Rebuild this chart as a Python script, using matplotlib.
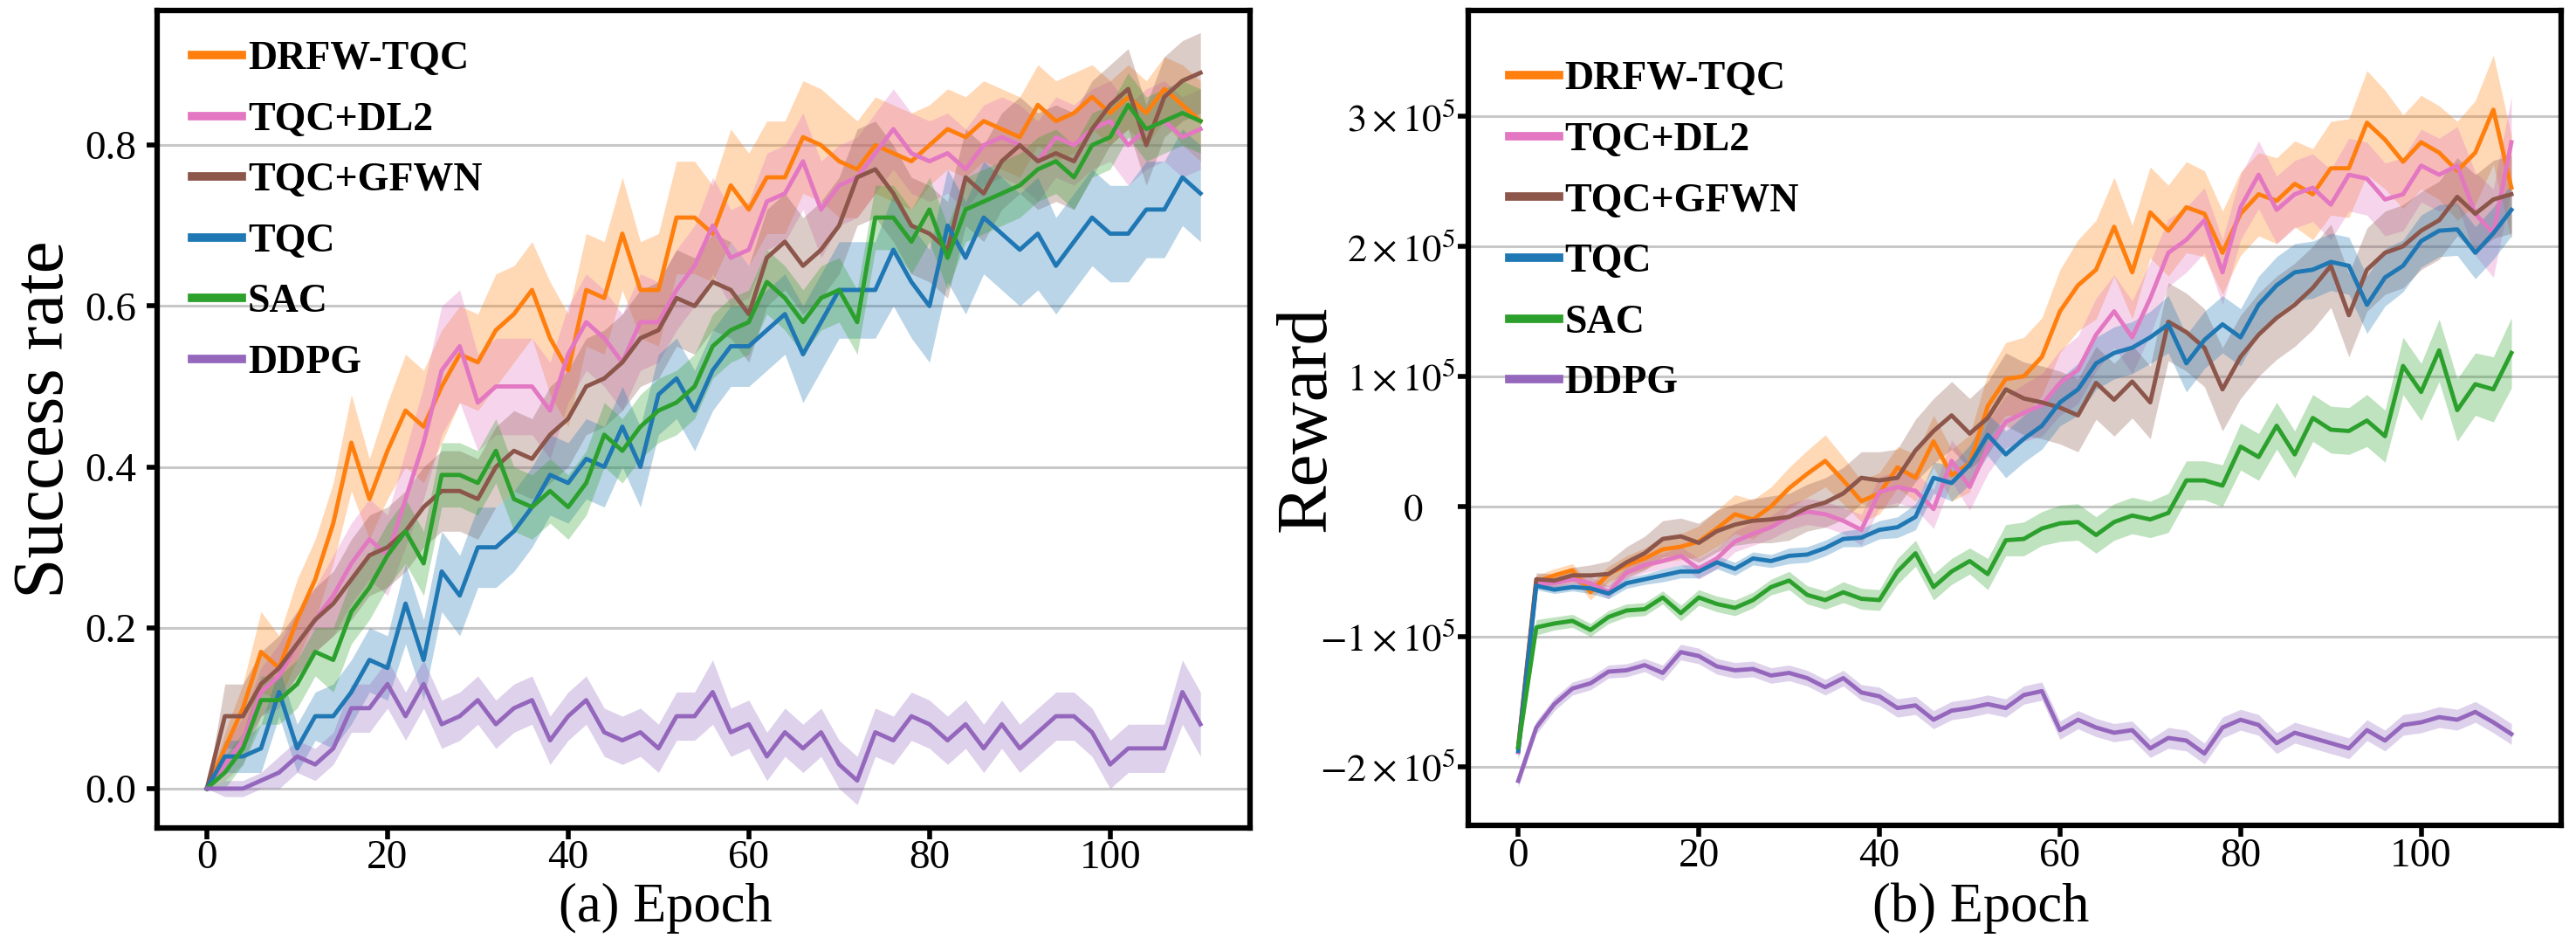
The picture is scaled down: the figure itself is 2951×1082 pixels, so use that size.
import numpy as np
import matplotlib.pyplot as plt
from matplotlib.transforms import ScaledTranslation

plt.rcParams['font.family'] = ['Liberation Serif', 'DejaVu Serif']
plt.rcParams['mathtext.fontset'] = 'stix'

# epochs sampled every 2 (0..110)
epochs = np.arange(0, 111, 2)

methods = ['DRFW-TQC', 'TQC+DL2', 'TQC+GFWN', 'TQC', 'SAC', 'DDPG']
colors = ['#ff7f0e', '#e377c2', '#8c564b', '#1f77b4', '#2ca02c', '#9467bd']

# ---- (a) success rate, mean ----
succ_drfw = [0.00, 0.05, 0.10, 0.17, 0.15, 0.21, 0.26, 0.33,
             0.43, 0.36, 0.42, 0.47, 0.45, 0.50, 0.54, 0.53,
             0.57, 0.59, 0.62, 0.56, 0.52, 0.62, 0.61, 0.69,
             0.62, 0.62, 0.71, 0.71, 0.69, 0.75, 0.72, 0.76,
             0.76, 0.81, 0.80, 0.78, 0.77, 0.80, 0.79, 0.78,
             0.80, 0.82, 0.81, 0.83, 0.82, 0.81, 0.85, 0.83,
             0.84, 0.86, 0.84, 0.86, 0.84, 0.87, 0.85, 0.83]
succ_dl2 = [0.00, 0.03, 0.06, 0.12, 0.14, 0.18, 0.21, 0.24,
            0.28, 0.31, 0.29, 0.36, 0.43, 0.52, 0.55, 0.48,
            0.50, 0.50, 0.50, 0.47, 0.54, 0.58, 0.56, 0.53,
            0.58, 0.58, 0.62, 0.65, 0.70, 0.66, 0.67, 0.73,
            0.74, 0.78, 0.72, 0.75, 0.76, 0.79, 0.82, 0.79,
            0.78, 0.79, 0.77, 0.80, 0.81, 0.80, 0.78, 0.81,
            0.80, 0.82, 0.83, 0.80, 0.82, 0.83, 0.81, 0.82]
succ_gfwn = [0.00, 0.09, 0.09, 0.13, 0.15, 0.18, 0.21, 0.23,
             0.26, 0.29, 0.30, 0.32, 0.35, 0.37, 0.37, 0.36,
             0.40, 0.42, 0.41, 0.44, 0.46, 0.50, 0.51, 0.53,
             0.56, 0.57, 0.61, 0.60, 0.63, 0.62, 0.59, 0.66,
             0.68, 0.65, 0.67, 0.70, 0.76, 0.77, 0.74, 0.70,
             0.69, 0.67, 0.76, 0.74, 0.78, 0.80, 0.78, 0.79,
             0.78, 0.82, 0.85, 0.87, 0.80, 0.86, 0.88, 0.89]
succ_tqc = [0.00, 0.04, 0.04, 0.05, 0.12, 0.05, 0.09, 0.09,
            0.12, 0.16, 0.15, 0.23, 0.16, 0.27, 0.24, 0.30,
            0.30, 0.32, 0.35, 0.39, 0.38, 0.41, 0.40, 0.45,
            0.40, 0.49, 0.51, 0.47, 0.52, 0.55, 0.55, 0.57,
            0.59, 0.54, 0.58, 0.62, 0.62, 0.62, 0.67, 0.63,
            0.60, 0.70, 0.66, 0.71, 0.69, 0.67, 0.69, 0.65,
            0.68, 0.71, 0.69, 0.69, 0.72, 0.72, 0.76, 0.74]
succ_sac = [0.00, 0.02, 0.05, 0.11, 0.11, 0.13, 0.17, 0.16,
            0.22, 0.25, 0.29, 0.32, 0.28, 0.39, 0.39, 0.38,
            0.42, 0.36, 0.35, 0.37, 0.35, 0.38, 0.44, 0.42,
            0.45, 0.47, 0.48, 0.50, 0.55, 0.57, 0.58, 0.63,
            0.61, 0.58, 0.61, 0.62, 0.58, 0.71, 0.71, 0.68,
            0.72, 0.66, 0.72, 0.73, 0.74, 0.75, 0.77, 0.78,
            0.76, 0.80, 0.81, 0.85, 0.82, 0.83, 0.84, 0.83]
succ_ddpg = [0.00, 0.00, 0.00, 0.01, 0.02, 0.04, 0.03, 0.05,
             0.10, 0.10, 0.13, 0.09, 0.13, 0.08, 0.09, 0.11,
             0.08, 0.10, 0.11, 0.06, 0.09, 0.11, 0.07, 0.06,
             0.07, 0.05, 0.09, 0.09, 0.12, 0.07, 0.08, 0.04,
             0.07, 0.05, 0.07, 0.03, 0.01, 0.07, 0.06, 0.09,
             0.08, 0.06, 0.08, 0.05, 0.08, 0.05, 0.07, 0.09,
             0.09, 0.07, 0.03, 0.05, 0.05, 0.05, 0.12, 0.08]

# ---- (a) success rate, spread ----
succ_sd_drfw = [0.00, 0.02, 0.03, 0.05, 0.04, 0.05, 0.05, 0.05,
                0.06, 0.05, 0.06, 0.07, 0.07, 0.07, 0.06, 0.06,
                0.07, 0.06, 0.06, 0.07, 0.07, 0.07, 0.07, 0.07,
                0.06, 0.07, 0.07, 0.07, 0.06, 0.07, 0.07, 0.07,
                0.07, 0.07, 0.07, 0.07, 0.06, 0.06, 0.06, 0.06,
                0.05, 0.05, 0.05, 0.05, 0.05, 0.05, 0.05, 0.05,
                0.05, 0.04, 0.04, 0.04, 0.04, 0.04, 0.05, 0.05]
succ_sd_dl2 = [0.00, 0.02, 0.03, 0.03, 0.04, 0.04, 0.04, 0.05,
               0.05, 0.05, 0.05, 0.06, 0.07, 0.08, 0.07, 0.06,
               0.06, 0.06, 0.06, 0.06, 0.06, 0.06, 0.06, 0.06,
               0.06, 0.05, 0.05, 0.05, 0.06, 0.06, 0.06, 0.06,
               0.06, 0.06, 0.06, 0.05, 0.05, 0.05, 0.05, 0.05,
               0.05, 0.05, 0.05, 0.05, 0.05, 0.05, 0.05, 0.05,
               0.05, 0.05, 0.05, 0.05, 0.05, 0.05, 0.05, 0.05]
succ_sd_gfwn = [0.00, 0.04, 0.04, 0.04, 0.04, 0.04, 0.04, 0.04,
                0.05, 0.05, 0.05, 0.05, 0.05, 0.05, 0.05, 0.05,
                0.05, 0.05, 0.05, 0.06, 0.06, 0.06, 0.06, 0.06,
                0.06, 0.06, 0.06, 0.06, 0.06, 0.06, 0.06, 0.06,
                0.06, 0.06, 0.06, 0.06, 0.06, 0.06, 0.06, 0.06,
                0.06, 0.06, 0.06, 0.06, 0.06, 0.06, 0.06, 0.06,
                0.06, 0.06, 0.05, 0.05, 0.05, 0.05, 0.05, 0.05]
succ_sd_tqc = [0.00, 0.02, 0.02, 0.03, 0.03, 0.03, 0.03, 0.04,
               0.04, 0.04, 0.04, 0.05, 0.05, 0.05, 0.05, 0.05,
               0.05, 0.05, 0.05, 0.05, 0.05, 0.05, 0.05, 0.05,
               0.05, 0.05, 0.05, 0.05, 0.05, 0.05, 0.05, 0.05,
               0.05, 0.06, 0.06, 0.06, 0.06, 0.06, 0.07, 0.07,
               0.07, 0.07, 0.07, 0.07, 0.07, 0.07, 0.07, 0.06,
               0.06, 0.06, 0.06, 0.06, 0.06, 0.06, 0.06, 0.06]
succ_sd_sac = [0.00, 0.02, 0.02, 0.03, 0.03, 0.03, 0.03, 0.04,
               0.04, 0.04, 0.04, 0.04, 0.04, 0.04, 0.04, 0.04,
               0.04, 0.04, 0.04, 0.04, 0.04, 0.04, 0.04, 0.04,
               0.04, 0.04, 0.04, 0.04, 0.04, 0.04, 0.04, 0.04,
               0.04, 0.04, 0.04, 0.04, 0.04, 0.04, 0.04, 0.04,
               0.04, 0.04, 0.04, 0.04, 0.04, 0.04, 0.04, 0.04,
               0.04, 0.04, 0.04, 0.04, 0.04, 0.04, 0.04, 0.04]
succ_sd_ddpg = [0.00, 0.01, 0.01, 0.01, 0.02, 0.02, 0.02, 0.02,
                0.03, 0.03, 0.03, 0.03, 0.03, 0.03, 0.03, 0.03,
                0.03, 0.03, 0.03, 0.03, 0.03, 0.03, 0.03, 0.03,
                0.03, 0.03, 0.03, 0.03, 0.04, 0.03, 0.03, 0.03,
                0.03, 0.03, 0.03, 0.03, 0.03, 0.03, 0.03, 0.03,
                0.03, 0.03, 0.03, 0.03, 0.03, 0.03, 0.03, 0.03,
                0.03, 0.03, 0.03, 0.03, 0.03, 0.03, 0.04, 0.04]

# ---- (b) reward, mean, in units of 1e5 ----
rew_drfw = [-1.85, -0.58, -0.53, -0.49, -0.66, -0.52, -0.45, -0.40,
            -0.33, -0.31, -0.27, -0.17, -0.06, -0.10, 0.00, 0.14,
            0.25, 0.35, 0.20, 0.04, 0.10, 0.30, 0.22, 0.50,
            0.24, 0.33, 0.77, 0.98, 1.00, 1.15, 1.50, 1.70,
            1.82, 2.15, 1.80, 2.26, 2.12, 2.30, 2.25, 1.95,
            2.25, 2.40, 2.35, 2.48, 2.40, 2.60, 2.60, 2.95,
            2.82, 2.65, 2.80, 2.72, 2.58, 2.72, 3.05, 2.45]
rew_dl2 = [-1.89, -0.59, -0.59, -0.56, -0.59, -0.66, -0.51, -0.45,
           -0.42, -0.38, -0.48, -0.40, -0.27, -0.21, -0.16, -0.08,
           -0.04, -0.06, -0.11, -0.18, 0.11, 0.15, 0.12, -0.02,
           0.35, 0.15, 0.45, 0.65, 0.72, 0.78, 0.95, 1.05,
           1.32, 1.50, 1.30, 1.60, 1.95, 2.05, 2.20, 1.80,
           2.30, 2.55, 2.28, 2.40, 2.45, 2.32, 2.55, 2.52,
           2.36, 2.40, 2.62, 2.55, 2.62, 2.25, 2.10, 2.80]
rew_gfwn = [-1.85, -0.56, -0.57, -0.53, -0.53, -0.52, -0.43, -0.36,
            -0.25, -0.23, -0.28, -0.19, -0.14, -0.11, -0.10, -0.08,
            -0.01, 0.03, 0.10, 0.22, 0.20, 0.22, 0.43, 0.58,
            0.70, 0.56, 0.68, 0.90, 0.83, 0.80, 0.76, 0.70,
            0.95, 0.82, 0.96, 0.80, 1.42, 1.34, 1.22, 0.90,
            1.15, 1.32, 1.45, 1.55, 1.68, 1.85, 1.47, 1.82,
            1.95, 2.00, 2.12, 2.20, 2.38, 2.25, 2.36, 2.40]
rew_tqc = [-1.88, -0.61, -0.64, -0.62, -0.63, -0.67, -0.59, -0.56,
           -0.53, -0.50, -0.50, -0.43, -0.48, -0.40, -0.42, -0.38,
           -0.37, -0.32, -0.25, -0.24, -0.18, -0.16, -0.08, 0.22,
           0.18, 0.32, 0.55, 0.40, 0.52, 0.62, 0.80, 0.90,
           1.10, 1.18, 1.22, 1.30, 1.40, 1.10, 1.28, 1.40,
           1.30, 1.55, 1.70, 1.80, 1.82, 1.88, 1.85, 1.55,
           1.76, 1.85, 2.04, 2.12, 2.13, 1.95, 2.10, 2.28]
rew_sac = [-1.85, -0.93, -0.90, -0.88, -0.95, -0.85, -0.80, -0.79,
           -0.70, -0.82, -0.70, -0.75, -0.78, -0.72, -0.62, -0.57,
           -0.68, -0.72, -0.66, -0.71, -0.72, -0.50, -0.36, -0.62,
           -0.50, -0.42, -0.52, -0.26, -0.25, -0.17, -0.13, -0.12,
           -0.22, -0.12, -0.07, -0.10, -0.05, 0.20, 0.20, 0.16,
           0.46, 0.38, 0.62, 0.40, 0.68, 0.59, 0.58, 0.66,
           0.54, 1.08, 0.88, 1.20, 0.74, 0.94, 0.90, 1.18]
rew_ddpg = [-2.11, -1.70, -1.52, -1.40, -1.36, -1.27, -1.26, -1.22,
            -1.28, -1.12, -1.15, -1.23, -1.26, -1.25, -1.30, -1.28,
            -1.32, -1.39, -1.32, -1.43, -1.46, -1.55, -1.53, -1.64,
            -1.57, -1.55, -1.52, -1.55, -1.45, -1.42, -1.72, -1.64,
            -1.70, -1.74, -1.72, -1.86, -1.78, -1.80, -1.90, -1.70,
            -1.64, -1.68, -1.82, -1.74, -1.78, -1.82, -1.86, -1.72,
            -1.80, -1.68, -1.66, -1.62, -1.64, -1.58, -1.66, -1.75]

# ---- (b) reward, spread, in units of 1e5 ----
rew_sd_drfw = [0.05, 0.05, 0.05, 0.05, 0.06, 0.06, 0.07, 0.08,
               0.10, 0.10, 0.12, 0.14, 0.15, 0.15, 0.15, 0.16,
               0.18, 0.20, 0.18, 0.16, 0.16, 0.16, 0.18, 0.20,
               0.20, 0.22, 0.25, 0.28, 0.30, 0.30, 0.32, 0.35,
               0.38, 0.38, 0.36, 0.35, 0.35, 0.35, 0.33, 0.32,
               0.32, 0.32, 0.33, 0.33, 0.35, 0.36, 0.38, 0.40,
               0.38, 0.36, 0.36, 0.36, 0.38, 0.40, 0.42, 0.40]
rew_sd_dl2 = [0.05, 0.04, 0.04, 0.04, 0.05, 0.05, 0.05, 0.06,
              0.06, 0.07, 0.08, 0.08, 0.08, 0.09, 0.09, 0.10,
              0.10, 0.10, 0.10, 0.12, 0.12, 0.12, 0.14, 0.15,
              0.16, 0.18, 0.20, 0.20, 0.22, 0.24, 0.25, 0.26,
              0.28, 0.28, 0.28, 0.28, 0.26, 0.25, 0.25, 0.25,
              0.25, 0.26, 0.26, 0.26, 0.26, 0.27, 0.28, 0.28,
              0.28, 0.28, 0.28, 0.28, 0.30, 0.32, 0.34, 0.35]
rew_sd_gfwn = [0.05, 0.05, 0.05, 0.06, 0.08, 0.10, 0.12, 0.13,
               0.14, 0.14, 0.15, 0.16, 0.16, 0.17, 0.18, 0.18,
               0.18, 0.19, 0.20, 0.20, 0.22, 0.22, 0.24, 0.25,
               0.26, 0.27, 0.28, 0.28, 0.28, 0.28, 0.28, 0.28,
               0.28, 0.28, 0.28, 0.28, 0.30, 0.30, 0.30, 0.32,
               0.32, 0.32, 0.32, 0.32, 0.32, 0.32, 0.32, 0.32,
               0.32, 0.32, 0.30, 0.30, 0.30, 0.30, 0.30, 0.30]
rew_sd_tqc = [0.05, 0.03, 0.03, 0.03, 0.04, 0.04, 0.04, 0.04,
              0.05, 0.05, 0.05, 0.05, 0.05, 0.05, 0.05, 0.06,
              0.06, 0.06, 0.06, 0.07, 0.07, 0.08, 0.10, 0.12,
              0.14, 0.15, 0.16, 0.18, 0.18, 0.18, 0.18, 0.20,
              0.20, 0.20, 0.20, 0.20, 0.22, 0.22, 0.22, 0.22,
              0.22, 0.22, 0.22, 0.22, 0.22, 0.22, 0.22, 0.22,
              0.22, 0.20, 0.20, 0.20, 0.20, 0.20, 0.20, 0.20]
rew_sd_sac = [0.10, 0.06, 0.05, 0.05, 0.05, 0.05, 0.05, 0.05,
              0.05, 0.06, 0.06, 0.06, 0.06, 0.06, 0.06, 0.07,
              0.07, 0.07, 0.08, 0.08, 0.08, 0.10, 0.10, 0.10,
              0.10, 0.10, 0.12, 0.12, 0.13, 0.13, 0.14, 0.14,
              0.14, 0.14, 0.14, 0.14, 0.15, 0.15, 0.15, 0.16,
              0.18, 0.18, 0.18, 0.18, 0.18, 0.18, 0.18, 0.20,
              0.20, 0.22, 0.22, 0.24, 0.24, 0.24, 0.25, 0.27]
rew_sd_ddpg = [0.05, 0.05, 0.05, 0.05, 0.05, 0.05, 0.05, 0.05,
               0.06, 0.06, 0.06, 0.06, 0.06, 0.06, 0.06, 0.06,
               0.06, 0.06, 0.06, 0.06, 0.07, 0.07, 0.07, 0.07,
               0.07, 0.07, 0.07, 0.07, 0.07, 0.07, 0.07, 0.07,
               0.07, 0.07, 0.07, 0.07, 0.08, 0.08, 0.08, 0.08,
               0.08, 0.08, 0.08, 0.08, 0.08, 0.08, 0.08, 0.08,
               0.08, 0.08, 0.08, 0.08, 0.08, 0.08, 0.08, 0.08]

xticks = [0, 20, 40, 60, 80, 100]
succ_ticks = [0.0, 0.2, 0.4, 0.6, 0.8]
rew_ticks = [-2, -1, 0, 1, 2, 3]
rew_tick_labels = [r'$-2\times10^{5}$', r'$-1\times10^{5}$', r'$0$',
                   r'$1\times10^{5}$', r'$2\times10^{5}$', r'$3\times10^{5}$']

succ_means = [succ_drfw, succ_dl2, succ_gfwn, succ_tqc, succ_sac, succ_ddpg]
succ_sds = [succ_sd_drfw, succ_sd_dl2, succ_sd_gfwn, succ_sd_tqc, succ_sd_sac, succ_sd_ddpg]
rew_means = [rew_drfw, rew_dl2, rew_gfwn, rew_tqc, rew_sac, rew_ddpg]
rew_sds = [rew_sd_drfw, rew_sd_dl2, rew_sd_gfwn, rew_sd_tqc, rew_sd_sac, rew_sd_ddpg]


def draw_panel(ax, means, sds, scale):
    for name, m, s, c in zip(methods, means, sds, colors):
        m = np.array(m) * scale
        s = np.array(s) * scale
        ax.fill_between(epochs, m - s, m + s, color=c, alpha=0.3, linewidth=0)
        ax.plot(epochs, m, color=c, lw=3.5, label=name)
    ax.set_xlim(-5.5, 115.5)
    ax.set_xticks(xticks)
    ax.yaxis.grid(True, color='#c8c8c8', lw=2.2)
    ax.set_axisbelow(True)
    for sp in ax.spines.values():
        sp.set_linewidth(4.5)
        sp.set_color('black')
    ax.tick_params(axis='both', direction='out', length=9, width=4,
                   labelsize=34, color='black')
    ax.tick_params(axis='x', pad=1)


def add_legend(ax, anchor):
    leg = ax.legend(loc='upper left', bbox_to_anchor=anchor, frameon=False,
                    prop={'size': 33, 'weight': 'bold'}, borderaxespad=0,
                    borderpad=0, handlelength=1.24, handletextpad=0.15,
                    labelspacing=0.60)
    for h in leg.legend_handles:
        h.set_linewidth(7)
    return leg


fig = plt.figure(figsize=(29.51, 10.82), dpi=100)
ax1 = fig.add_axes([0.061, 0.1238, 0.4243, 0.8647])
ax2 = fig.add_axes([0.5701, 0.1262, 0.4241, 0.8623])

# (a)
draw_panel(ax1, succ_means, succ_sds, 1.0)
ax1.set_ylim(-0.049, 0.967)
ax1.set_yticks(succ_ticks)
ax1.tick_params(axis='y', pad=8)
ax1.set_ylabel('Success rate', fontsize=60)
ax1.yaxis.set_label_coords(-0.072, 0.5)
ax1.set_xlabel('(a) Epoch', fontsize=45)
ax1.xaxis.label.set_va('baseline')
ax1.xaxis.set_label_coords(0.465, -0.114)
add_legend(ax1, (0.032, 0.963))

# (b)
draw_panel(ax2, rew_means, rew_sds, 1e5)
ax2.set_ylim(-2.455e5, 3.81e5)
ax2.set_yticks(np.array(rew_ticks) * 1e5)
ax2.set_yticklabels(rew_tick_labels)
ax2.tick_params(axis='y', pad=2, labelsize=32)
# the "0" label sits left of the right-aligned column, as in the original
zero_label = ax2.get_yticklabels()[2]
zero_label.set_transform(zero_label.get_transform()
                         + ScaledTranslation(-0.37, 0, fig.dpi_scale_trans))
ax2.set_ylabel('Reward', fontsize=60)
ax2.yaxis.set_label_coords(-0.117, 0.5)
ax2.set_xlabel('(b) Epoch', fontsize=45)
ax2.xaxis.label.set_va('baseline')
ax2.xaxis.set_label_coords(0.469, -0.117)
add_legend(ax2, (0.037, 0.938))

fig.savefig('out.png', dpi=100)
